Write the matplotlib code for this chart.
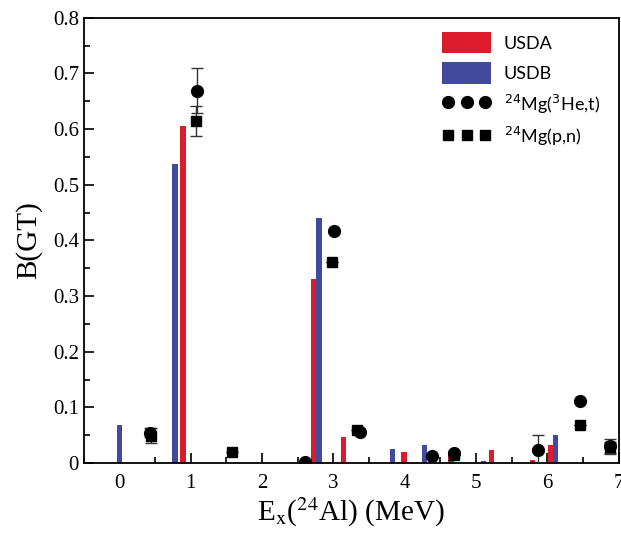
import matplotlib.pyplot as plt
from matplotlib.font_manager import FontProperties
from matplotlib.ticker import MultipleLocator

# shell model B(GT) (bars)
usda_x = [0.89, 2.73, 3.14, 3.99, 4.65, 5.22, 5.79, 6.05]
usda_b = [0.606, 0.330, 0.046, 0.020, 0.015, 0.023, 0.006, 0.032]
usdb_x = [0.0, 0.78, 2.80, 3.83, 4.28, 5.11, 6.12]
usdb_b = [0.068, 0.537, 0.441, 0.026, 0.032, 0.004, 0.050]

# 24Mg(3He,t)
he_x = [0.43, 1.09, 2.60, 3.01, 3.38, 4.39, 4.69, 5.87, 6.46, 6.88]
he_b = [0.054, 0.669, 0.002, 0.416, 0.055, 0.013, 0.018, 0.024, 0.112, 0.030]
he_err = [0.008, 0.040, 0, 0, 0, 0, 0, 0.027, 0, 0.013]

# 24Mg(p,n)
pn_x = [0.44, 1.07, 1.58, 2.98, 3.33, 4.69, 6.46, 6.88]
pn_b = [0.049, 0.614, 0.020, 0.361, 0.060, 0.014, 0.068, 0.028]
pn_err = [0.013, 0.027, 0, 0, 0, 0, 0, 0.010]

plt.rcParams['font.family'] = 'Liberation Serif'
plt.rcParams['mathtext.fontset'] = 'stix'

fig = plt.figure(figsize=(6.21, 5.39), dpi=100)
ax = fig.add_axes([0.135, 0.141, 0.861, 0.826])

w = 0.075
b1 = ax.bar(usda_x, usda_b, width=w, color='#dc1c2c', zorder=2)
b2 = ax.bar(usdb_x, usdb_b, width=w, color='#414a9c', zorder=2)

# error bars first, markers on top (markers only in legend)
ax.errorbar(pn_x, pn_b, yerr=pn_err, fmt='none', ecolor='#333333',
            elinewidth=1, capsize=4, capthick=1, zorder=3)
ax.errorbar(he_x, he_b, yerr=he_err, fmt='none', ecolor='#333333',
            elinewidth=1, capsize=4, capthick=1, zorder=3)
m_pn, = ax.plot(pn_x, pn_b, 's', color='black', ms=7.5, ls='none', zorder=4)
m_he, = ax.plot(he_x, he_b, 'o', color='black', ms=8.5, ls='none', zorder=5)

ax.set_xlim(-0.5, 7)
ax.set_ylim(0, 0.8)
ax.xaxis.set_major_locator(MultipleLocator(1))
ax.xaxis.set_minor_locator(MultipleLocator(0.5))
ax.yaxis.set_major_locator(MultipleLocator(0.1))
ax.yaxis.set_minor_locator(MultipleLocator(0.05))
ax.yaxis.set_major_formatter(plt.FuncFormatter(lambda v, p: '0' if v == 0 else '%.1f' % v))
ax.tick_params(which='both', direction='in', top=False, right=False, labelsize=15)
ax.tick_params(which='major', length=7, width=1.2)
ax.tick_params(which='minor', length=4, width=1.2)
ax.tick_params(axis='x', pad=8)
for s in ax.spines.values():
    s.set_linewidth(1.3)

ax.set_xlabel('E$_\\mathrm{x}$($^{24}$Al) (MeV)', fontsize=21, labelpad=2)
ax.set_ylabel('B(GT)', fontsize=21, labelpad=8)

prop = FontProperties(family='Lato', size=13, math_fontfamily='dejavusans')
ax.legend([b1, b2, m_he, m_pn],
          ['USDA', 'USDB', '$^{24}$Mg($^{3}$He,t)', '$^{24}$Mg(p,n)'],
          loc='upper right', frameon=False, prop=prop, numpoints=3,
          handlelength=2.7, handleheight=1.45, labelspacing=0.5,
          handletextpad=0.7, bbox_to_anchor=(0.995, 1.005))

fig.savefig('out.png', dpi=100)
